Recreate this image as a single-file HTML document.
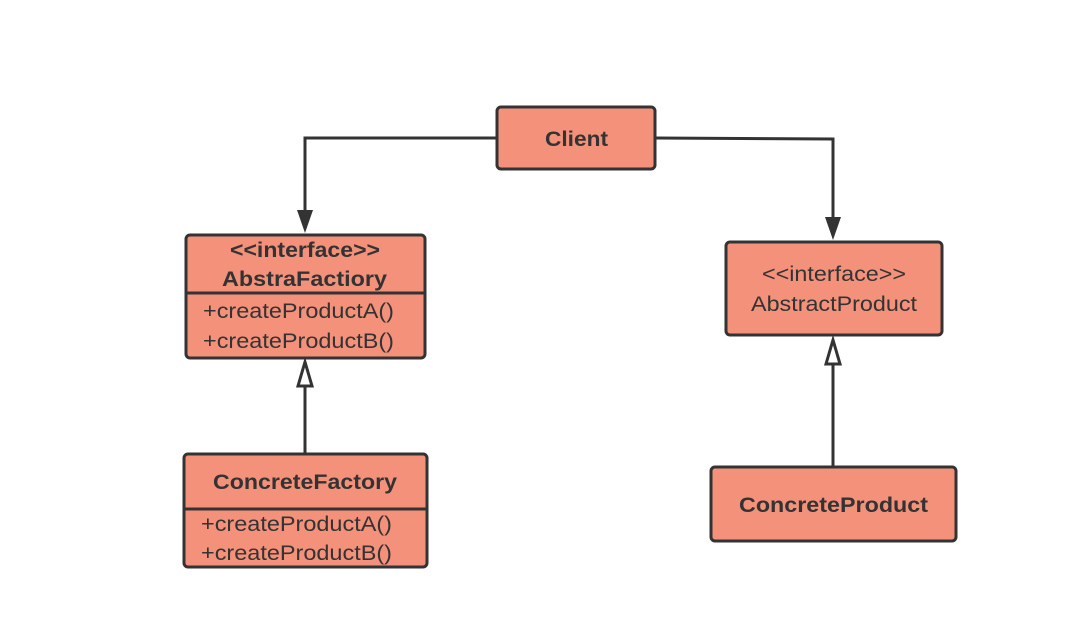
<!DOCTYPE html>
<html><head><style>body{margin:0;background:#fff}</style></head><body>
<svg width="1089" height="634" xmlns="http://www.w3.org/2000/svg" font-family="Liberation Sans, sans-serif" fill="#333">
<g stroke="#333" stroke-width="3" fill="none">
<polyline points="497,138 305,138 305,215"/>
<polyline points="655,138 833,139 833,222"/>
<line x1="305" y1="454" x2="305" y2="386"/>
<line x1="833" y1="467" x2="833" y2="364"/>
</g>
<polygon points="297,210 313,210 305,233" fill="#333"/>
<polygon points="825,217 841,217 833,240" fill="#333"/>
<polygon points="298,386 312,386 305,362" fill="#fff" stroke="#333" stroke-width="3"/>
<polygon points="826,364 840,364 833,340" fill="#fff" stroke="#333" stroke-width="3"/>
<g fill="#F4917A" stroke="#333" stroke-width="3">
<rect x="497" y="107" width="158" height="62" rx="4"/>
<rect x="186" y="235" width="239" height="123" rx="4"/>
<rect x="184" y="454" width="243" height="113" rx="4"/>
<rect x="726" y="242" width="216" height="93" rx="4"/>
<rect x="711" y="467" width="245" height="74" rx="4"/>
</g>
<g stroke="#333" stroke-width="3">
<line x1="186" y1="293" x2="425" y2="293"/>
<line x1="184" y1="509" x2="427" y2="509"/>
</g>
<g font-weight="bold" font-size="21" lengthAdjust="spacingAndGlyphs">
<text x="545" y="146" textLength="63" lengthAdjust="spacingAndGlyphs">Client</text>
<text x="230" y="257" textLength="150" lengthAdjust="spacingAndGlyphs">&lt;&lt;interface&gt;&gt;</text>
<text x="222" y="286" textLength="165" lengthAdjust="spacingAndGlyphs">AbstraFactiory</text>
<text x="213" y="489" textLength="184" lengthAdjust="spacingAndGlyphs">ConcreteFactory</text>
<text x="739" y="512" textLength="189" lengthAdjust="spacingAndGlyphs">ConcreteProduct</text>
</g>
<g font-size="21">
<text x="203" y="318" textLength="191" lengthAdjust="spacingAndGlyphs">+createProductA()</text>
<text x="203" y="348" textLength="191" lengthAdjust="spacingAndGlyphs">+createProductB()</text>
<text x="201" y="531" textLength="191" lengthAdjust="spacingAndGlyphs">+createProductA()</text>
<text x="201" y="560" textLength="191" lengthAdjust="spacingAndGlyphs">+createProductB()</text>
<text x="762" y="281" textLength="144" lengthAdjust="spacingAndGlyphs">&lt;&lt;interface&gt;&gt;</text>
<text x="751" y="311" textLength="166" lengthAdjust="spacingAndGlyphs">AbstractProduct</text>
</g>
</svg>
</body></html>
